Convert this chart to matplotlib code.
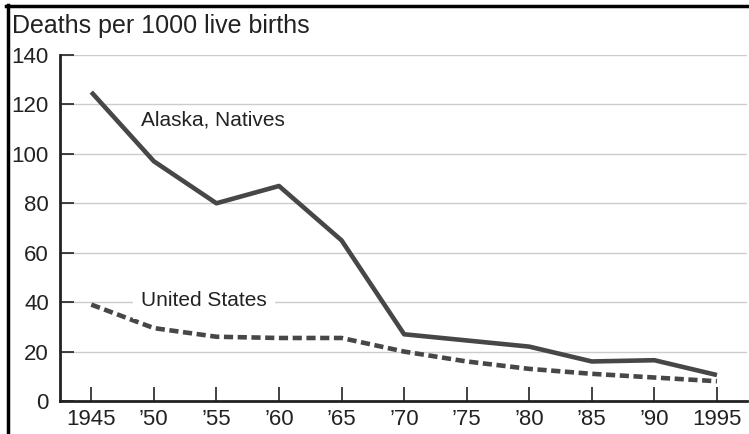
import matplotlib
matplotlib.use("Agg")
import matplotlib.pyplot as plt
from matplotlib.lines import Line2D

years = [1945, 1950, 1955, 1960, 1965, 1970, 1975, 1980, 1985, 1990, 1995]
xlabels = ["1945", "\u201950", "\u201955", "\u201960", "\u201965", "\u201970", "\u201975", "\u201980", "\u201985", "\u201990", "1995"]
alaska = [125, 97, 80, 87, 65, 27, 24.5, 22, 16, 16.5, 10.5]
us = [39, 29.5, 26, 25.5, 25.5, 20, 16, 13, 11, 9.5, 8]
yticks = [0, 20, 40, 60, 80, 100, 120, 140]

plt.rcParams['font.family'] = ['Liberation Sans', 'DejaVu Sans']

fig = plt.figure(figsize=(7.49, 4.34), dpi=100)
ax = fig.add_axes([60/749, 1-401/434, (747-60)/749, (401-55)/434])

ax.set_xlim(1942.5, 1997.4)
ax.set_ylim(0, 140)
for y in yticks[1:]:
    ax.axhline(y, color="#cccccc", lw=1.0, zorder=1)

ax.plot(years, alaska, color="#474747", lw=3.3, solid_capstyle="butt", zorder=3)
ax.plot(years, us, color="#474747", lw=3.3, linestyle=(0, (2.0, 1.0)), zorder=3)

ax.set_xticks(years)
ax.set_xticklabels(xlabels)
ax.set_yticks(yticks)
ax.tick_params(axis="both", direction="in", length=10, width=1.2, color="#222222",
               labelsize=16, labelcolor="#222222")
ax.tick_params(axis="x", pad=6)
ax.tick_params(axis="y", pad=8)

for s in ["top", "right"]:
    ax.spines[s].set_visible(False)
for s in ["left", "bottom"]:
    ax.spines[s].set_linewidth(2)
    ax.spines[s].set_color("#222222")

ax.text(1949.0, 113.7, "Alaska, Natives", fontsize=15, color="#222222", va="center", ha="left", zorder=4)
ax.text(1949.0, 40.5, "United States", fontsize=15, color="#222222", va="center", ha="left", zorder=4,
        bbox=dict(facecolor="white", edgecolor="none", pad=6))

fig.text(12/749, 1-26/434, "Deaths per 1000 live births", fontsize=18, color="#222222", va="center", ha="left")

fig.add_artist(Line2D([8/749, 8/749], [0, 1-5/434], transform=fig.transFigure, color="black", lw=2.5))
fig.add_artist(Line2D([6/749, 1], [1-6/434, 1-6/434], transform=fig.transFigure, color="black", lw=2.5))

fig.savefig("out.png", dpi=100)
